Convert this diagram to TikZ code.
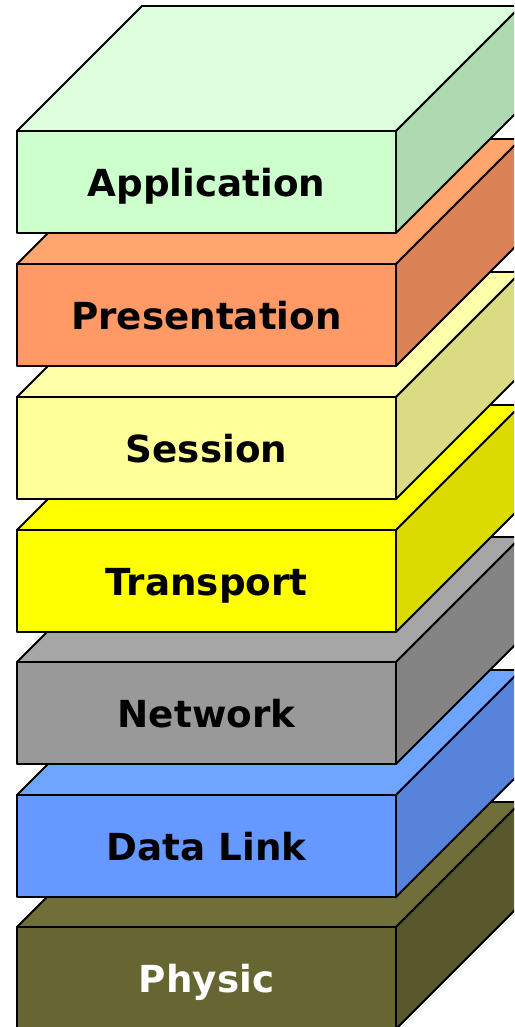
\documentclass[tikz,border=0pt]{standalone}
\usepackage{fontspec}
\setmainfont{DejaVu Sans}
\usetikzlibrary{calc}

\definecolor{apptop}{RGB}{221,255,221}
\definecolor{appfront}{RGB}{204,255,204}
\definecolor{appside}{RGB}{175,217,175}
\definecolor{prestop}{RGB}{255,166,110}
\definecolor{presfront}{RGB}{255,153,102}
\definecolor{presside}{RGB}{219,131,87}
\definecolor{sesstop}{RGB}{255,255,170}
\definecolor{sessfront}{RGB}{255,255,153}
\definecolor{sessside}{RGB}{219,219,131}
\definecolor{transtop}{RGB}{255,255,0}
\definecolor{transfront}{RGB}{255,255,0}
\definecolor{transside}{RGB}{219,219,0}
\definecolor{nettop}{RGB}{166,166,166}
\definecolor{netfront}{RGB}{153,153,153}
\definecolor{netside}{RGB}{131,131,131}
\definecolor{linktop}{RGB}{110,166,255}
\definecolor{linkfront}{RGB}{102,153,255}
\definecolor{linkside}{RGB}{87,131,219}
\definecolor{phystop}{RGB}{111,111,58}
\definecolor{physfront}{RGB}{102,102,51}
\definecolor{physside}{RGB}{88,88,44}

% y of the front top edge, top colour, front colour, side colour, node name, text
\def\osilayer#1#2#3#4#5#6{%
	\draw[layer edge, fill=#2] (17,#1) -- (142,#1-125) -- (521,#1-125) -- (396,#1) -- cycle;
	\draw[layer edge, fill=#4] (396,#1) -- (521,#1-125) -- (521,#1-23) -- (396,#1+102) -- cycle;
	\draw[layer edge, fill=#3] (17,#1) rectangle (396,#1+102);
	\node[layer text] (#5) at (206.5,#1+65) {#6};
}

\tikzset{
	layer edge/.style={line width=1.4pt, line join=round},
	layer text/.style={anchor=base, inner sep=0pt,
		font=\fontsize{26.5}{30}\selectfont\bfseries},
}

\begin{document}
\begin{tikzpicture}[x=0.025cm, y=-0.025cm]
		%%%%% START %%%%%
		
		\useasboundingbox (0, 0) rectangle (514, 1027);
		\clip (0, 0) rectangle (514, 1027);
		
		\osilayer{927}{phystop}{physfront}{physside}{physic}{\textcolor{white}{Physic}}
		\osilayer{795}{linktop}{linkfront}{linkside}{datalink}{Data Link}
		\osilayer{662}{nettop}{netfront}{netside}{network}{Network}
		\osilayer{530}{transtop}{transfront}{transside}{transport}{Transport}
		\osilayer{397}{sesstop}{sessfront}{sessside}{session}{Session}
		\osilayer{264}{prestop}{presfront}{presside}{presentation}{Presentation}
		\osilayer{131}{apptop}{appfront}{appside}{application}{Application}
		
		%%%%% END %%%%%
	\end{tikzpicture}
\end{document}
